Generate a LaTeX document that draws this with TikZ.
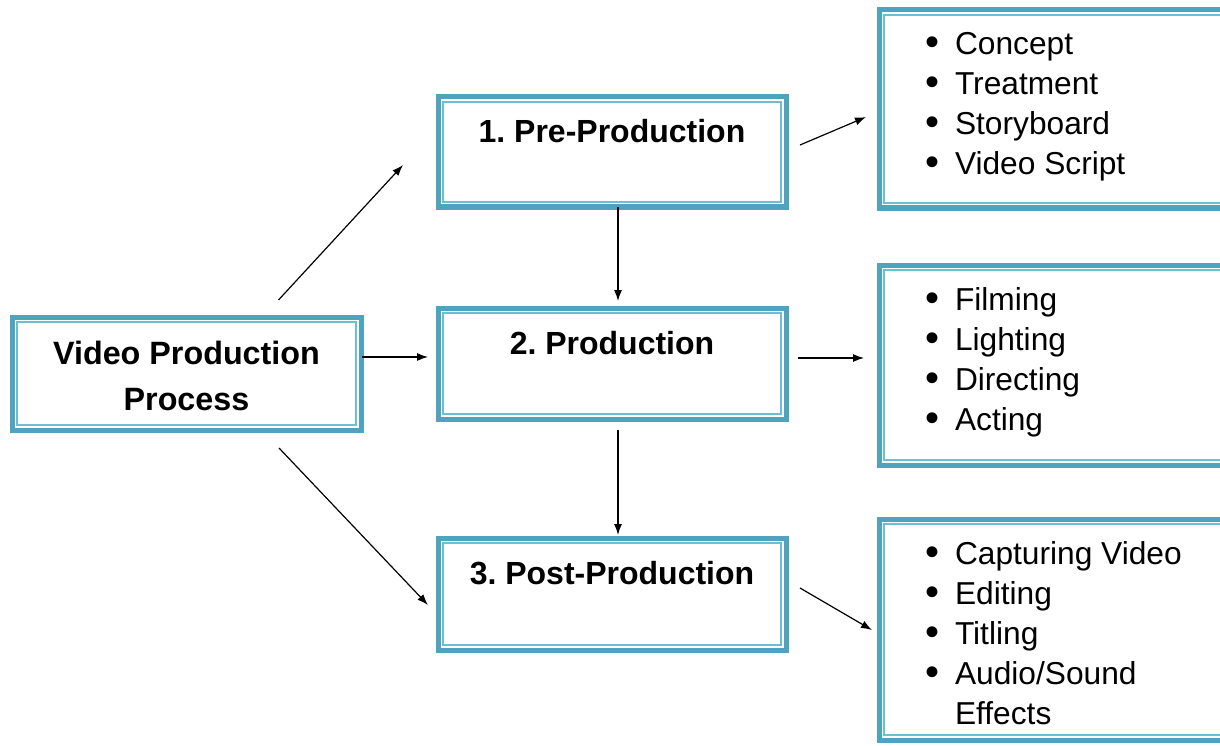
\documentclass[tikz,border=0pt]{standalone}
\usepackage{fontspec}
\setmainfont{Liberation Sans}
\usetikzlibrary{calc,arrows.meta}
\definecolor{tealA}{RGB}{78,163,190}
\definecolor{tealB}{RGB}{108,190,210}
\frenchspacing
\begin{document}
\begin{tikzpicture}[x=1pt,y=-1pt,
  frame/.style={draw=tealA, line width=5pt, inner sep=0pt, outer sep=0pt, fill=white},
  innerline/.style={draw=tealB, line width=1.8pt},
  title/.style={frame, font=\fontsize{32}{46}\selectfont\bfseries, text height=25pt, text depth=44pt},
  listtext/.style={anchor=north west, inner sep=0pt, outer sep=0pt, font=\fontsize{31.7}{40}\selectfont, align=left},
  arr/.style={-{Latex[length=11pt,width=8pt]}, line width=1.2pt, black}
]
\clip (0,0) rectangle (1220,746);
\fill[white] (0,0) rectangle (1220,746);

\node[frame, font=\fontsize{32.3}{46}\selectfont\bfseries, align=center, minimum width=349pt, minimum height=113pt] (main) at (186.5,373.5) {\rule{0pt}{29pt}Video Production\\Process};
\node[title, minimum width=348pt, minimum height=110pt] (pre) at (612,152) {1. Pre-Production};
\node[title, minimum width=348pt, minimum height=111pt] (prod) at (612,363.5) {2. Production};
\node[title, minimum width=348pt, minimum height=112pt] (post) at (612,594) {3. Post-Production};

\node[frame, minimum width=361pt, minimum height=198pt] (b1) at (1059.5,109) {};
\node[frame, minimum width=361pt, minimum height=200pt] (b2) at (1059.5,365) {};
\node[frame, minimum width=361pt, minimum height=221pt] (b3) at (1059.5,629.5) {};

\foreach \n in {main,pre,prod,post,b1,b2,b3}
  \draw[innerline] ([shift={(4.8pt,-4.8pt)}]\n.north west) rectangle ([shift={(-4.8pt,4.8pt)}]\n.south east);

\newcommand{\bul}{\makebox[30pt][l]{\raisebox{-1pt}{\fontsize{40}{40}\selectfont •}}}
\node[listtext] (l1) at (925,32) {\bul Concept\\\bul Treatment\\\bul Storyboard\\\bul Video Script};
\node[listtext] (l2) at (925,287.5) {\bul Filming\\\bul Lighting\\\bul Directing\\\bul Acting};
\node[listtext] (l3) at (925,541.5) {\bul Capturing Video\\\bul Editing\\\bul Titling\\\bul Audio/Sound\\\hspace*{30pt}Effects};

\draw[arr] ($(main.north)+(92,-17)$) -- ($(pre.west)+(-35,13)$);
\draw[arr] ($(main.east)+(1,-16.5)$) -- ($(prod.west)+(-10,-6.5)$);
\draw[arr] ($(main.south)+(92.5,18)$) -- ($(post.west)+(-10,11)$);
\draw[arr] ($(pre.south)+(6,0)$) -- ($(prod.north)+(6,-7)$);
\draw[arr] ($(prod.south)+(6,11)$) -- ($(post.north)+(6,-3)$);
\draw[arr] ($(pre.east)+(14,-7)$) -- ($(b1.west)+(-13,8)$);
\draw[arr] ($(prod.east)+(12,-5.5)$) -- ($(b2.west)+(-15,-7)$);
\draw[arr] ($(post.east)+(14,-6)$) -- ($(b3.west)+(-7,0.5)$);
\end{tikzpicture}
\end{document}
